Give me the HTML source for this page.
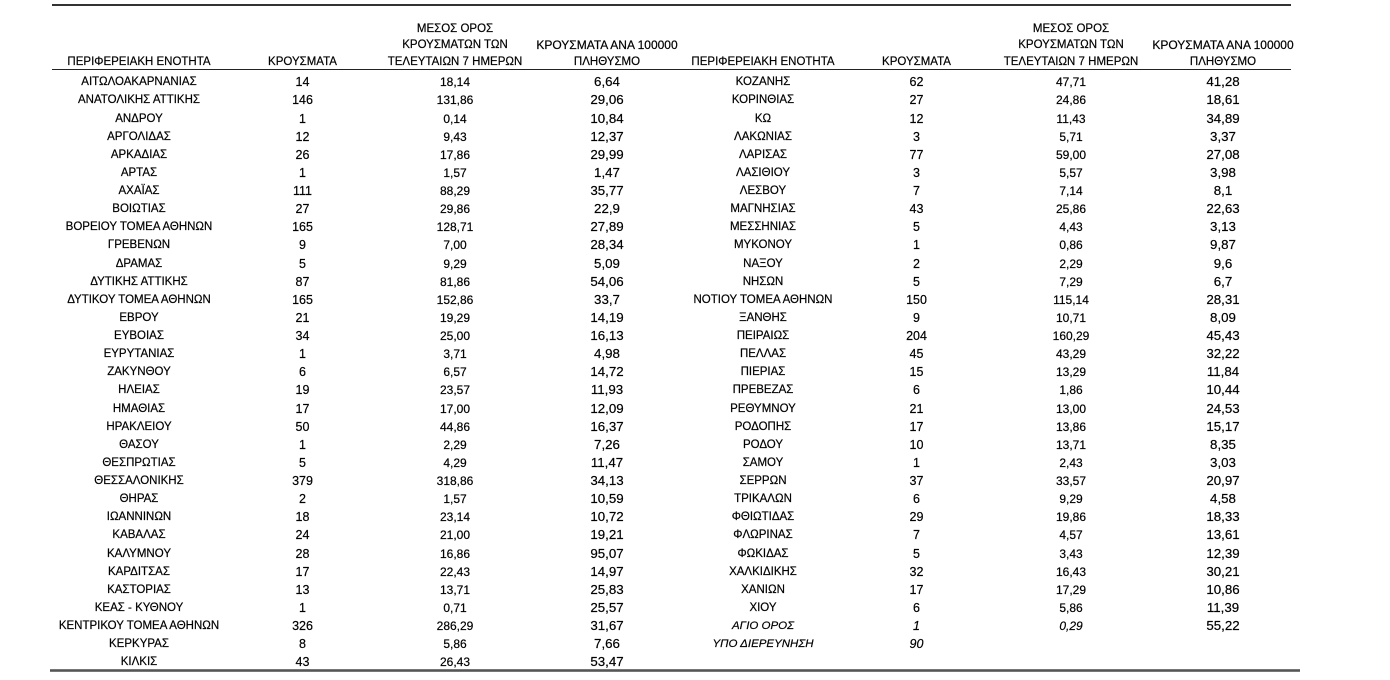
<!DOCTYPE html>
<html>
<head>
<meta charset="utf-8">
<style>
html,body{margin:0;padding:0;background:#fff;}
body{width:1390px;height:680px;position:relative;overflow:hidden;font-family:"Liberation Sans","DejaVu Sans",sans-serif;color:#000;-webkit-text-stroke:0.2px #000;}
.ln{position:absolute;}
.hdr{position:absolute;left:0;width:1390px;height:16px;line-height:16px;font-size:11.5px;}
.hdr span{position:absolute;width:220px;text-align:center;white-space:nowrap;top:0;}
.tb{position:absolute;left:0;top:74.3px;width:1390px;}
.r{position:relative;height:18.13px;line-height:16px;}
.r span{position:absolute;top:0;width:220px;text-align:center;white-space:nowrap;}
.a{left:29px;font-size:11.5px;}
.b{left:192.5px;font-size:12.5px;}
.c{left:345px;font-size:12px;}
.d{left:497px;font-size:13.3px;}
.e{left:653px;font-size:11.5px;}
.f{left:806.5px;font-size:12.5px;}
.g{left:961px;font-size:12px;}
.h{left:1113px;font-size:13.3px;}
.i{font-style:italic;}
</style>
</head>
<body>
<div class="ln" style="left:52px;top:4px;width:1239px;height:2px;background:#333;"></div>
<div class="ln" style="left:52px;top:68.5px;width:1239px;height:1.5px;background:#222;"></div>
<div class="ln" style="left:50px;top:669px;width:1250px;height:3px;background:#777;"></div>
<div class="ln" style="left:50px;top:670px;width:1250px;height:1px;background:#555;"></div>

<div class="hdr" style="top:21.1px;">
<span class="c" style="font-size:11.5px;">ΜΕΣΟΣ ΟΡΟΣ</span>
<span class="g" style="font-size:11.5px;">ΜΕΣΟΣ ΟΡΟΣ</span>
</div>
<div class="hdr" style="top:37.4px;">
<span class="c" style="font-size:11.5px;">ΚΡΟΥΣΜΑΤΩΝ ΤΩΝ</span>
<span class="d" style="font-size:12px;">ΚΡΟΥΣΜΑΤΑ ΑΝΑ 100000</span>
<span class="g" style="font-size:11.5px;">ΚΡΟΥΣΜΑΤΩΝ ΤΩΝ</span>
<span class="h" style="font-size:12px;">ΚΡΟΥΣΜΑΤΑ ΑΝΑ 100000</span>
</div>
<div class="hdr" style="top:53.7px;">
<span class="a" style="font-size:11.5px;">ΠΕΡΙΦΕΡΕΙΑΚΗ ΕΝΟΤΗΤΑ</span>
<span class="b" style="font-size:11.5px;">ΚΡΟΥΣΜΑΤΑ</span>
<span class="c" style="font-size:11.5px;">ΤΕΛΕΥΤΑΙΩΝ 7 ΗΜΕΡΩΝ</span>
<span class="d" style="font-size:11.5px;">ΠΛΗΘΥΣΜΟ</span>
<span class="e" style="font-size:11.5px;">ΠΕΡΙΦΕΡΕΙΑΚΗ ΕΝΟΤΗΤΑ</span>
<span class="f" style="font-size:11.5px;">ΚΡΟΥΣΜΑΤΑ</span>
<span class="g" style="font-size:11.5px;">ΤΕΛΕΥΤΑΙΩΝ 7 ΗΜΕΡΩΝ</span>
<span class="h" style="font-size:11.5px;">ΠΛΗΘΥΣΜΟ</span>
</div>

<div class="tb">
<div class="r"><span class="a">ΑΙΤΩΛΟΑΚΑΡΝΑΝΙΑΣ</span><span class="b">14</span><span class="c">18,14</span><span class="d">6,64</span><span class="e">ΚΟΖΑΝΗΣ</span><span class="f">62</span><span class="g">47,71</span><span class="h">41,28</span></div>
<div class="r"><span class="a">ΑΝΑΤΟΛΙΚΗΣ ΑΤΤΙΚΗΣ</span><span class="b">146</span><span class="c">131,86</span><span class="d">29,06</span><span class="e">ΚΟΡΙΝΘΙΑΣ</span><span class="f">27</span><span class="g">24,86</span><span class="h">18,61</span></div>
<div class="r"><span class="a">ΑΝΔΡΟΥ</span><span class="b">1</span><span class="c">0,14</span><span class="d">10,84</span><span class="e">ΚΩ</span><span class="f">12</span><span class="g">11,43</span><span class="h">34,89</span></div>
<div class="r"><span class="a">ΑΡΓΟΛΙΔΑΣ</span><span class="b">12</span><span class="c">9,43</span><span class="d">12,37</span><span class="e">ΛΑΚΩΝΙΑΣ</span><span class="f">3</span><span class="g">5,71</span><span class="h">3,37</span></div>
<div class="r"><span class="a">ΑΡΚΑΔΙΑΣ</span><span class="b">26</span><span class="c">17,86</span><span class="d">29,99</span><span class="e">ΛΑΡΙΣΑΣ</span><span class="f">77</span><span class="g">59,00</span><span class="h">27,08</span></div>
<div class="r"><span class="a">ΑΡΤΑΣ</span><span class="b">1</span><span class="c">1,57</span><span class="d">1,47</span><span class="e">ΛΑΣΙΘΙΟΥ</span><span class="f">3</span><span class="g">5,57</span><span class="h">3,98</span></div>
<div class="r"><span class="a">ΑΧΑΪΑΣ</span><span class="b">111</span><span class="c">88,29</span><span class="d">35,77</span><span class="e">ΛΕΣΒΟΥ</span><span class="f">7</span><span class="g">7,14</span><span class="h">8,1</span></div>
<div class="r"><span class="a">ΒΟΙΩΤΙΑΣ</span><span class="b">27</span><span class="c">29,86</span><span class="d">22,9</span><span class="e">ΜΑΓΝΗΣΙΑΣ</span><span class="f">43</span><span class="g">25,86</span><span class="h">22,63</span></div>
<div class="r"><span class="a">ΒΟΡΕΙΟΥ ΤΟΜΕΑ ΑΘΗΝΩΝ</span><span class="b">165</span><span class="c">128,71</span><span class="d">27,89</span><span class="e">ΜΕΣΣΗΝΙΑΣ</span><span class="f">5</span><span class="g">4,43</span><span class="h">3,13</span></div>
<div class="r"><span class="a">ΓΡΕΒΕΝΩΝ</span><span class="b">9</span><span class="c">7,00</span><span class="d">28,34</span><span class="e">ΜΥΚΟΝΟΥ</span><span class="f">1</span><span class="g">0,86</span><span class="h">9,87</span></div>
<div class="r"><span class="a">ΔΡΑΜΑΣ</span><span class="b">5</span><span class="c">9,29</span><span class="d">5,09</span><span class="e">ΝΑΞΟΥ</span><span class="f">2</span><span class="g">2,29</span><span class="h">9,6</span></div>
<div class="r"><span class="a">ΔΥΤΙΚΗΣ ΑΤΤΙΚΗΣ</span><span class="b">87</span><span class="c">81,86</span><span class="d">54,06</span><span class="e">ΝΗΣΩΝ</span><span class="f">5</span><span class="g">7,29</span><span class="h">6,7</span></div>
<div class="r"><span class="a">ΔΥΤΙΚΟΥ ΤΟΜΕΑ ΑΘΗΝΩΝ</span><span class="b">165</span><span class="c">152,86</span><span class="d">33,7</span><span class="e">ΝΟΤΙΟΥ ΤΟΜΕΑ ΑΘΗΝΩΝ</span><span class="f">150</span><span class="g">115,14</span><span class="h">28,31</span></div>
<div class="r"><span class="a">ΕΒΡΟΥ</span><span class="b">21</span><span class="c">19,29</span><span class="d">14,19</span><span class="e">ΞΑΝΘΗΣ</span><span class="f">9</span><span class="g">10,71</span><span class="h">8,09</span></div>
<div class="r"><span class="a">ΕΥΒΟΙΑΣ</span><span class="b">34</span><span class="c">25,00</span><span class="d">16,13</span><span class="e">ΠΕΙΡΑΙΩΣ</span><span class="f">204</span><span class="g">160,29</span><span class="h">45,43</span></div>
<div class="r"><span class="a">ΕΥΡΥΤΑΝΙΑΣ</span><span class="b">1</span><span class="c">3,71</span><span class="d">4,98</span><span class="e">ΠΕΛΛΑΣ</span><span class="f">45</span><span class="g">43,29</span><span class="h">32,22</span></div>
<div class="r"><span class="a">ΖΑΚΥΝΘΟΥ</span><span class="b">6</span><span class="c">6,57</span><span class="d">14,72</span><span class="e">ΠΙΕΡΙΑΣ</span><span class="f">15</span><span class="g">13,29</span><span class="h">11,84</span></div>
<div class="r"><span class="a">ΗΛΕΙΑΣ</span><span class="b">19</span><span class="c">23,57</span><span class="d">11,93</span><span class="e">ΠΡΕΒΕΖΑΣ</span><span class="f">6</span><span class="g">1,86</span><span class="h">10,44</span></div>
<div class="r"><span class="a">ΗΜΑΘΙΑΣ</span><span class="b">17</span><span class="c">17,00</span><span class="d">12,09</span><span class="e">ΡΕΘΥΜΝΟΥ</span><span class="f">21</span><span class="g">13,00</span><span class="h">24,53</span></div>
<div class="r"><span class="a">ΗΡΑΚΛΕΙΟΥ</span><span class="b">50</span><span class="c">44,86</span><span class="d">16,37</span><span class="e">ΡΟΔΟΠΗΣ</span><span class="f">17</span><span class="g">13,86</span><span class="h">15,17</span></div>
<div class="r"><span class="a">ΘΑΣΟΥ</span><span class="b">1</span><span class="c">2,29</span><span class="d">7,26</span><span class="e">ΡΟΔΟΥ</span><span class="f">10</span><span class="g">13,71</span><span class="h">8,35</span></div>
<div class="r"><span class="a">ΘΕΣΠΡΩΤΙΑΣ</span><span class="b">5</span><span class="c">4,29</span><span class="d">11,47</span><span class="e">ΣΑΜΟΥ</span><span class="f">1</span><span class="g">2,43</span><span class="h">3,03</span></div>
<div class="r"><span class="a">ΘΕΣΣΑΛΟΝΙΚΗΣ</span><span class="b">379</span><span class="c">318,86</span><span class="d">34,13</span><span class="e">ΣΕΡΡΩΝ</span><span class="f">37</span><span class="g">33,57</span><span class="h">20,97</span></div>
<div class="r"><span class="a">ΘΗΡΑΣ</span><span class="b">2</span><span class="c">1,57</span><span class="d">10,59</span><span class="e">ΤΡΙΚΑΛΩΝ</span><span class="f">6</span><span class="g">9,29</span><span class="h">4,58</span></div>
<div class="r"><span class="a">ΙΩΑΝΝΙΝΩΝ</span><span class="b">18</span><span class="c">23,14</span><span class="d">10,72</span><span class="e">ΦΘΙΩΤΙΔΑΣ</span><span class="f">29</span><span class="g">19,86</span><span class="h">18,33</span></div>
<div class="r"><span class="a">ΚΑΒΑΛΑΣ</span><span class="b">24</span><span class="c">21,00</span><span class="d">19,21</span><span class="e">ΦΛΩΡΙΝΑΣ</span><span class="f">7</span><span class="g">4,57</span><span class="h">13,61</span></div>
<div class="r"><span class="a">ΚΑΛΥΜΝΟΥ</span><span class="b">28</span><span class="c">16,86</span><span class="d">95,07</span><span class="e">ΦΩΚΙΔΑΣ</span><span class="f">5</span><span class="g">3,43</span><span class="h">12,39</span></div>
<div class="r"><span class="a">ΚΑΡΔΙΤΣΑΣ</span><span class="b">17</span><span class="c">22,43</span><span class="d">14,97</span><span class="e">ΧΑΛΚΙΔΙΚΗΣ</span><span class="f">32</span><span class="g">16,43</span><span class="h">30,21</span></div>
<div class="r"><span class="a">ΚΑΣΤΟΡΙΑΣ</span><span class="b">13</span><span class="c">13,71</span><span class="d">25,83</span><span class="e">ΧΑΝΙΩΝ</span><span class="f">17</span><span class="g">17,29</span><span class="h">10,86</span></div>
<div class="r"><span class="a">ΚΕΑΣ - ΚΥΘΝΟΥ</span><span class="b">1</span><span class="c">0,71</span><span class="d">25,57</span><span class="e">ΧΙΟΥ</span><span class="f">6</span><span class="g">5,86</span><span class="h">11,39</span></div>
<div class="r"><span class="a">ΚΕΝΤΡΙΚΟΥ ΤΟΜΕΑ ΑΘΗΝΩΝ</span><span class="b">326</span><span class="c">286,29</span><span class="d">31,67</span><span class="e i">ΑΓΙΟ ΟΡΟΣ</span><span class="f i">1</span><span class="g i">0,29</span><span class="h">55,22</span></div>
<div class="r"><span class="a">ΚΕΡΚΥΡΑΣ</span><span class="b">8</span><span class="c">5,86</span><span class="d">7,66</span><span class="e i">ΥΠΟ ΔΙΕΡΕΥΝΗΣΗ</span><span class="f i">90</span></div>
<div class="r"><span class="a">ΚΙΛΚΙΣ</span><span class="b">43</span><span class="c">26,43</span><span class="d">53,47</span></div>
</div>
</body>
</html>
